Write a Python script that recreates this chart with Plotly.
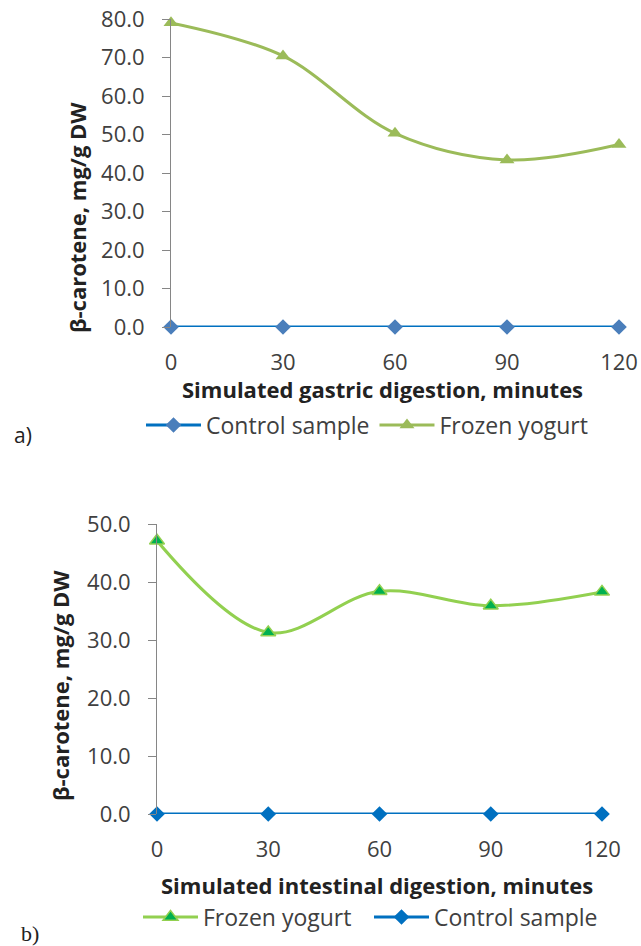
import plotly.graph_objects as go

minutes = [0, 30, 60, 90, 120]
gastric_control = [0.0, 0.0, 0.0, 0.0, 0.0]
gastric_frozen = [79.0, 70.4, 50.3, 43.4, 47.4]
intestinal_frozen = [47.1, 31.3, 38.4, 35.9, 38.3]
intestinal_control = [0.0, 0.0, 0.0, 0.0, 0.0]
y_ticks_a = [0, 10, 20, 30, 40, 50, 60, 70, 80]
y_ticks_b = [0, 10, 20, 30, 40, 50]

W, H = 641, 946
FONT = "Open Sans"
TICK_COLOR = "#404040"
AXIS_COLOR = "#868686"

fig = go.Figure()

# Panel a
fig.add_trace(go.Scatter(
    x=minutes, y=gastric_control, name="Control sample", mode="lines+markers",
    line=dict(color="#0070C0", width=3),
    marker=dict(symbol="diamond", size=12, color="#4A7EBB", line=dict(width=0)),
    xaxis="x", yaxis="y", legend="legend", cliponaxis=False))
fig.add_trace(go.Scatter(
    x=minutes, y=gastric_frozen, name="Frozen yogurt", mode="lines+markers",
    line=dict(color="#9BBB59", width=3, shape="spline", smoothing=1.0),
    marker=dict(symbol="triangle-up", size=13, color="#9BBB59", line=dict(width=0)),
    xaxis="x", yaxis="y", legend="legend", cliponaxis=False))

# Panel b
fig.add_trace(go.Scatter(
    x=minutes, y=intestinal_frozen, name="Frozen yogurt", mode="lines+markers",
    line=dict(color="#92D050", width=3, shape="spline", smoothing=1.0),
    marker=dict(symbol="triangle-up", size=13, color="#00B050", line=dict(width=1.5, color="#92D050")),
    xaxis="x2", yaxis="y2", legend="legend2", cliponaxis=False))
fig.add_trace(go.Scatter(
    x=minutes, y=intestinal_control, name="Control sample", mode="lines+markers",
    line=dict(color="#0070C0", width=3),
    marker=dict(symbol="diamond", size=12, color="#0070C0", line=dict(width=0)),
    xaxis="x2", yaxis="y2", legend="legend3", cliponaxis=False))

def px_x(p):
    return p / W

def px_y(p):
    return 1 - p / H

xa_common = dict(range=[0, 120], tickvals=minutes, showline=False, showgrid=False,
                 zeroline=False, ticks="", automargin=False,
                 tickfont=dict(family=FONT, size=22, color=TICK_COLOR),
                 ticklabelstandoff=20)
ya_common = dict(showline=True, linecolor=AXIS_COLOR, linewidth=1, showgrid=False, zeroline=False,
                 ticks="outside", ticklen=8, tickcolor=AXIS_COLOR, tickwidth=1, tickformat=".1f",
                 automargin=False,
                 tickfont=dict(family=FONT, size=22, color=TICK_COLOR), ticklabelstandoff=13)

leg_common = dict(orientation="h", xanchor="left", yanchor="middle",
                  font=dict(family=FONT, size=23, color=TICK_COLOR), itemwidth=55,
                  bgcolor="rgba(0,0,0,0)", traceorder="normal")

fig.update_layout(
    width=W, height=H, margin=dict(l=0, r=0, t=0, b=0, autoexpand=False),
    paper_bgcolor="white", plot_bgcolor="white",
    xaxis=dict(domain=[px_x(171), px_x(619)], anchor="y", **xa_common),
    yaxis=dict(domain=[px_y(327), px_y(19)], anchor="x", range=[0, 80], tickvals=y_ticks_a, **ya_common),
    xaxis2=dict(domain=[px_x(157), px_x(602)], anchor="y2", **xa_common),
    yaxis2=dict(domain=[px_y(814), px_y(524)], anchor="x2", range=[0, 50], tickvals=y_ticks_b, **ya_common),
    legend=dict(x=px_x(141), y=px_y(425), **leg_common),
    legend2=dict(x=px_x(138), y=px_y(917), **leg_common),
    legend3=dict(x=px_x(369), y=px_y(917), **leg_common),
    showlegend=True,
)

TITLE_FONT = dict(family=FONT, size=22, color="#222222")
annotations = [
    dict(text="<b>Simulated gastric digestion, minutes</b>", x=px_x(382), y=px_y(389),
         xref="paper", yref="paper", showarrow=False, xanchor="center", yanchor="middle",
         font=TITLE_FONT),
    dict(text="<b>β-carotene, mg/g DW</b>", x=px_x(77), y=px_y(218),
         xref="paper", yref="paper", showarrow=False, xanchor="center", yanchor="middle",
         textangle=-90, font=TITLE_FONT),
    dict(text="<b>Simulated intestinal digestion, minutes</b>", x=px_x(377), y=px_y(885),
         xref="paper", yref="paper", showarrow=False, xanchor="center", yanchor="middle",
         font=TITLE_FONT),
    dict(text="<b>β-carotene, mg/g DW</b>", x=px_x(60), y=px_y(686),
         xref="paper", yref="paper", showarrow=False, xanchor="center", yanchor="middle",
         textangle=-90, font=TITLE_FONT),
    dict(text="a)", x=px_x(12), y=px_y(435), xref="paper", yref="paper", showarrow=False,
         xanchor="left", yanchor="middle", font=dict(family=FONT, size=21, color="#222222")),
    dict(text="b)", x=px_x(19), y=px_y(933), xref="paper", yref="paper", showarrow=False,
         xanchor="left", yanchor="middle", font=dict(family="Liberation Serif", size=22, color="#222222")),
]
fig.update_layout(annotations=annotations)

fig.write_html("out.html")
